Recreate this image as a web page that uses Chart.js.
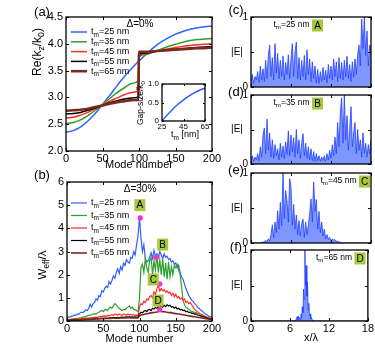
<!DOCTYPE html>
<html>
<head>
<meta charset="utf-8">
<script src="https://cdn.jsdelivr.net/npm/chart.js@4.4.1/dist/chart.umd.min.js"></script>
<style>
  html, body { margin: 0; padding: 0; background: #fff; }
  #wrap { position: relative; width: 375px; height: 348px; overflow: hidden; }
  #wrap canvas { position: absolute; left: 0; top: 0; }
</style>
</head>
<body>
<div id="wrap">
  <canvas id="chartA" width="375" height="348"></canvas>
  <canvas id="chartInset" width="375" height="348"></canvas>
  <canvas id="chartB" width="375" height="348"></canvas>
  <canvas id="chartC" width="375" height="348"></canvas>
  <canvas id="chartD" width="375" height="348"></canvas>
  <canvas id="chartE" width="375" height="348"></canvas>
  <canvas id="chartF" width="375" height="348"></canvas>
</div>
<script>
// metal thickness of each curve (nm)
const tmValues = [25, 35, 45, 55, 65];

// (a) Re(kz/k0) vs mode number, delta = 0%
const aModes = [0, 10, 20, 30, 40, 50, 60, 70, 80, 90, 99, 100, 110, 120, 130, 140, 150, 160, 170, 180, 190, 200];
const aBlue  = [2.35, 2.38, 2.45, 2.56, 2.7, 2.87, 3.04, 3.22, 3.39, 3.54, 3.67, 3.68, 3.81, 3.93, 4.03, 4.11, 4.18, 4.23, 4.27, 4.3, 4.32, 4.33];
const aGreen = [2.51, 2.53, 2.58, 2.66, 2.76, 2.87, 2.98, 3.09, 3.18, 3.26, 3.31, 3.76, 3.8, 3.85, 3.9, 3.95, 3.99, 4.03, 4.06, 4.08, 4.09, 4.1];
const aRed   = [2.62, 2.63, 2.67, 2.72, 2.79, 2.86, 2.93, 2.99, 3.05, 3.09, 3.12, 3.79, 3.82, 3.85, 3.88, 3.91, 3.93, 3.95, 3.97, 3.98, 3.99, 4.0];
const aBlack = [2.69, 2.7, 2.72, 2.76, 2.8, 2.85, 2.9, 2.94, 2.97, 2.99, 3.01, 3.81, 3.83, 3.85, 3.87, 3.89, 3.9, 3.91, 3.92, 3.93, 3.94, 3.95];
const aBrown = [2.75, 2.76, 2.77, 2.79, 2.82, 2.85, 2.88, 2.91, 2.93, 2.95, 2.96, 3.85, 3.85, 3.86, 3.87, 3.88, 3.89, 3.9, 3.91, 3.92, 3.92, 3.93];

// inset: gap size vs tm
const insetTm  = [25, 30, 35, 40, 45, 50, 55, 60, 65];
const insetGap = [0, 0.17, 0.32, 0.46, 0.57, 0.67, 0.76, 0.83, 0.89];

// (b) Weff/lambda vs mode number (every 2nd mode), delta = 30%
const bModeStep = 2;
const bBlue = [0.15,0.18,0.17,0.2,0.22,0.25,0.24,0.3,0.28,0.35,
  0.38,0.36,0.42,0.48,0.45,0.55,0.72,0.6,0.75,0.8,
  0.95,0.9,1.1,1.05,1.3,1.25,1.4,1.5,1.45,1.7,
  1.6,1.75,1.95,1.85,2.1,2.25,2.05,2.35,2.2,2.5,
  2.4,2.65,2.55,2.5,2.75,2.7,3.0,2.85,3.3,3.7,
  4.45,3.6,3.0,3.3,2.7,2.55,2.6,2.75,2.95,2.7,
  3.05,2.8,2.9,2.75,3.0,2.85,2.7,2.9,2.75,2.8,
  2.65,2.7,2.55,2.6,2.45,2.5,2.3,2.4,2.1,1.9,
  1.8,1.6,1.4,1.25,1.1,1.0,0.9,0.85,0.75,0.7,
  0.6,0.55,0.48,0.45,0.38,0.32,0.28,0.25,0.2,0.18,
  0.15];
const bGreen = [0.05,0.06,0.07,0.08,0.08,0.1,0.1,0.12,0.13,0.14,
  0.15,0.17,0.18,0.2,0.22,0.24,0.25,0.28,0.3,0.32,
  0.3,0.35,0.38,0.42,0.45,0.4,0.48,0.5,0.45,0.55,
  0.6,0.55,0.65,0.75,0.7,0.6,0.55,0.5,0.45,0.5,
  0.48,0.55,0.6,0.65,0.55,0.6,0.5,0.48,0.45,0.4,
  1.0,2.3,2.45,2.1,2.7,2.3,2.1,2.6,2.75,2.0,
  2.6,2.2,2.85,2.1,2.65,2.0,2.7,1.9,2.5,1.8,
  2.55,1.9,2.35,2.0,2.4,2.3,2.45,2.2,2.0,1.5,
  0.9,0.7,0.6,0.55,0.5,0.45,0.42,0.4,0.38,0.35,
  0.32,0.3,0.28,0.25,0.22,0.2,0.18,0.15,0.13,0.12,
  0.1];
const bRed = [0.05,0.05,0.06,0.06,0.07,0.07,0.08,0.08,0.09,0.09,
  0.1,0.1,0.11,0.12,0.12,0.13,0.14,0.14,0.15,0.16,
  0.17,0.16,0.18,0.2,0.19,0.21,0.22,0.2,0.24,0.22,
  0.25,0.27,0.24,0.3,0.28,0.26,0.3,0.27,0.25,0.3,
  0.28,0.25,0.3,0.26,0.28,0.25,0.27,0.24,0.25,0.22,
  0.6,0.75,0.7,0.85,0.8,0.95,0.9,1.05,1.1,1.0,
  1.25,1.15,1.4,1.55,1.3,1.4,1.3,1.35,1.25,1.3,
  1.2,1.25,1.1,1.2,1.05,1.15,1.0,1.05,0.95,1.0,
  0.9,0.95,0.8,0.85,0.75,0.8,0.7,0.6,0.5,0.45,
  0.4,0.35,0.3,0.28,0.25,0.2,0.18,0.15,0.13,0.12,
  0.1];
const bBlack = [0.03,0.03,0.03,0.04,0.04,0.04,0.05,0.05,0.05,0.06,
  0.06,0.06,0.07,0.07,0.07,0.08,0.08,0.08,0.09,0.09,
  0.1,0.1,0.1,0.11,0.11,0.12,0.12,0.12,0.13,0.13,
  0.14,0.14,0.15,0.14,0.15,0.16,0.15,0.16,0.17,0.16,
  0.17,0.18,0.17,0.18,0.17,0.18,0.17,0.18,0.17,0.16,
  0.3,0.38,0.35,0.42,0.45,0.4,0.48,0.5,0.45,0.55,
  0.52,0.58,0.55,0.62,0.58,0.65,0.6,0.68,0.62,0.7,
  0.65,0.68,0.6,0.62,0.55,0.6,0.52,0.55,0.48,0.5,
  0.45,0.47,0.4,0.42,0.36,0.38,0.33,0.34,0.3,0.3,
  0.26,0.25,0.22,0.2,0.18,0.16,0.14,0.12,0.1,0.08,
  0.07];
const bBrown = [0.02,0.02,0.03,0.03,0.03,0.04,0.04,0.04,0.05,0.05,
  0.05,0.06,0.06,0.06,0.07,0.07,0.07,0.08,0.08,0.08,
  0.09,0.09,0.09,0.1,0.1,0.1,0.1,0.11,0.11,0.11,
  0.11,0.12,0.12,0.12,0.12,0.13,0.12,0.13,0.13,0.13,
  0.14,0.13,0.14,0.14,0.13,0.14,0.13,0.14,0.13,0.13,
  0.22,0.25,0.27,0.28,0.3,0.31,0.32,0.34,0.35,0.36,
  0.37,0.38,0.39,0.4,0.42,0.41,0.4,0.41,0.39,0.38,
  0.37,0.36,0.36,0.34,0.33,0.32,0.31,0.3,0.29,0.28,
  0.27,0.26,0.25,0.24,0.22,0.21,0.2,0.19,0.18,0.17,
  0.16,0.15,0.14,0.13,0.12,0.11,0.1,0.09,0.08,0.07,
  0.06];

// marked modes A-D
const markerLetters = ['A', 'B', 'C', 'D'];
const markerModes = [101, 123, 128, 128];
const markerValues = [4.45, 2.75, 1.6, 0.5];

// (c)-(e) |E| profiles, x/lambda every 0.2
const fieldStep = 0.2;
const cField = [0.08,0.18,0.05,0.15,0.1,0.22,0.06,0.3,0.1,0.26,
  0.08,0.38,0.12,0.45,0.6,0.15,0.42,0.1,0.62,0.2,
  0.48,0.12,0.38,0.15,0.44,0.1,0.35,0.18,0.46,0.12,
  0.4,0.62,0.15,0.5,0.64,0.12,0.42,0.1,0.38,0.15,
  0.45,0.1,0.53,0.18,0.4,0.08,0.36,0.12,0.3,0.06,
  0.25,0.05,0.22,0.08,0.28,0.1,0.24,0.06,0.32,0.12,
  0.3,0.1,0.4,0.15,0.36,0.08,0.42,0.12,0.35,0.1,
  0.38,0.15,0.44,0.12,0.32,0.08,0.36,0.14,0.4,0.18,
  0.46,0.6,0.3,0.97,0.55,1.0,0.45,0.8,0.3,0.6,
  0.5];
const dField = [0.05,0.12,0.04,0.1,0.06,0.15,0.05,0.25,0.1,0.42,
  0.52,0.15,0.65,0.2,0.45,0.1,0.35,0.08,0.28,0.12,
  0.22,0.06,0.3,0.1,0.26,0.08,0.32,0.14,0.48,0.12,
  0.42,0.18,0.38,0.1,0.5,0.15,0.35,0.08,0.3,0.44,
  0.12,0.3,0.08,0.25,0.06,0.22,0.05,0.18,0.04,0.15,
  0.05,0.12,0.04,0.1,0.05,0.12,0.04,0.15,0.06,0.2,
  0.08,0.28,0.12,0.39,0.15,0.6,0.25,0.75,0.96,0.3,
  1.0,0.35,0.7,0.2,0.5,0.83,0.25,0.45,0.6,0.15,
  0.5,0.2,0.35,0.1,0.45,0.15,0.3,0.1,0.28,0.15,
  0.35];
const eField = [0,0,0,0,0,0,0,0,0.01,0.01,
  0.02,0.04,0.02,0.06,0.03,0.12,0.26,0.08,0.3,0.15,
  0.46,0.2,0.58,0.25,1.0,0.35,0.75,0.6,0.3,0.92,
  0.79,0.25,0.55,0.2,0.4,0.12,0.32,0.1,0.28,0.34,
  0.08,0.3,0.12,0.25,0.42,0.63,0.3,0.87,0.45,0.62,
  0.2,0.45,0.15,0.3,0.1,0.2,0.06,0.12,0.05,0.08,
  0.03,0.06,0.04,0.05,0.02,0.03,0.01,0.01,0,0,
  0,0,0,0,0,0,0,0,0,0,
  0,0,0,0,0,0,0,0,0,0,
  0];
// (f) narrow peak, sampled finer around it
const fX = [0, 6.8, 7.0, 7.1, 7.2, 7.3, 7.4, 7.5, 7.6, 7.7, 7.8, 7.9, 8.0, 8.1, 8.2, 8.3, 8.4, 8.5, 8.6, 8.7, 8.8, 8.9, 9.0, 9.1, 9.2, 9.3, 9.5, 18];
const fField = [0, 0, 0.03, 0.06, 0.02, 0.07, 0.03, 0.05, 0.02, 0.1, 0.04, 0.2, 0.12, 0.45, 0.3, 1.0, 0.5, 0.78, 0.35, 0.55, 0.15, 0.25, 0.08, 0.1, 0.03, 0.05, 0, 0];

const lineColors = ['#3060ff', '#2ca02c', '#ff2a2a', '#000000', '#7a2a1a'];
const fieldBlue = '#1f3fff';
const FONT = '"Liberation Sans", Arial, Helvetica, sans-serif';
Chart.defaults.font.family = FONT;
Chart.defaults.color = '#000';

// split "t_{m}=25" into normal / subscript pieces
function richParts(str) {
    const out = [];
    const re = /_\{([^}]*)\}/g;
    let last = 0, m;
    while ((m = re.exec(str))) {
        if (m.index > last) out.push([str.slice(last, m.index), false]);
        out.push([m[1], true]);
        last = re.lastIndex;
    }
    if (last < str.length) out.push([str.slice(last), false]);
    return out;
}

function drawRich(ctx, str, x, y, size, align, rot) {
    const parts = richParts(str);
    const fontOf = (sub) => `${sub ? size * 0.72 : size}px ${FONT}`;
    ctx.save();
    ctx.translate(x, y);
    if (rot) ctx.rotate(-Math.PI / 2);
    let w = 0;
    parts.forEach(p => { ctx.font = fontOf(p[1]); w += ctx.measureText(p[0]).width; });
    let cx = align === 'center' ? -w / 2 : align === 'right' ? -w : 0;
    ctx.textBaseline = 'middle';
    ctx.textAlign = 'left';
    ctx.fillStyle = '#000';
    parts.forEach(p => {
        ctx.font = fontOf(p[1]);
        ctx.fillText(p[0], cx, p[1] ? size * 0.32 : 0);
        cx += ctx.measureText(p[0]).width;
    });
    ctx.restore();
}

function letterBox(ctx, letter, cx, cy) {
    ctx.fillStyle = '#a8c83c';
    ctx.fillRect(cx - 5.5, cy - 6, 11, 12);
    ctx.fillStyle = '#000';
    ctx.font = `10px ${FONT}`;
    ctx.textAlign = 'center';
    ctx.textBaseline = 'middle';
    ctx.fillText(letter, cx, cy + 0.5);
}

// box, inward ticks, legend and labels in MATLAB style
function framePlugin(cfg) {
    return {
        id: 'frame',
        beforeDraw(chart) {
            if (!cfg.whiteArea) return;
            const a = chart.chartArea;
            chart.ctx.fillStyle = '#fff';
            chart.ctx.fillRect(a.left, a.top, a.right - a.left, a.bottom - a.top);
        },
        afterDraw(chart) {
            const { ctx, chartArea: a } = chart;
            const xs = chart.scales.x, ys = chart.scales.y;
            const tl = cfg.tickLen || 3;
            ctx.save();
            ctx.strokeStyle = '#000';
            ctx.lineWidth = 1;
            ctx.beginPath();
            (cfg.xTicks || []).forEach(v => {
                const p = Math.round(xs.getPixelForValue(v)) + 0.5;
                ctx.moveTo(p, a.bottom); ctx.lineTo(p, a.bottom - tl);
                ctx.moveTo(p, a.top); ctx.lineTo(p, a.top + tl);
            });
            (cfg.yTicks || []).forEach(v => {
                const p = Math.round(ys.getPixelForValue(v)) + 0.5;
                ctx.moveTo(a.left, p); ctx.lineTo(a.left + tl, p);
                ctx.moveTo(a.right, p); ctx.lineTo(a.right - tl, p);
            });
            ctx.stroke();
            ctx.lineWidth = 1.3;
            ctx.strokeRect(a.left, a.top, a.right - a.left, a.bottom - a.top);

            if (cfg.legend) {
                const L = cfg.legend;
                let i = 0;
                chart.data.datasets.forEach(ds => {
                    if (!ds.label) return;
                    const y = L.y + i * L.dy;
                    ctx.strokeStyle = ds.borderColor;
                    ctx.lineWidth = ds.borderWidth;
                    ctx.beginPath();
                    ctx.moveTo(L.x, y); ctx.lineTo(L.x + L.len, y);
                    ctx.stroke();
                    drawRich(ctx, ds.label, L.x + L.len + 4, y, L.size, 'left');
                    i++;
                });
            }
            (cfg.boxes || []).forEach(b => letterBox(ctx, b.t, xs.getPixelForValue(b.x), ys.getPixelForValue(b.y)));
            (cfg.boxesPx || []).forEach(b => letterBox(ctx, b.t, b.x, b.y));
            (cfg.texts || []).forEach(t => drawRich(ctx, t.t, t.x, t.y, t.size, t.align || 'center', t.rot));
            ctx.restore();
        }
    };
}

function linAxis(min, max, step, size, isX, fontSize) {
    return {
        type: 'linear',
        min: min,
        max: max,
        grid: { display: false, drawTicks: false },
        border: { display: false },
        ticks: { stepSize: step, font: { size: fontSize }, padding: isX ? 1 : 3, maxRotation: 0, autoSkip: false },
        afterFit: (scale) => { if (isX) scale.height = size; else scale.width = size; }
    };
}

function baseOptions(padding, xAxis, yAxis) {
    return {
        responsive: false,
        animation: false,
        events: [],
        layout: { padding: padding, autoPadding: false },
        plugins: { legend: { display: false }, tooltip: { enabled: false } },
        scales: { x: xAxis, y: yAxis }
    };
}

const pairs = (xs, ys) => xs.map((x, j) => ({ x: x, y: ys[j] }));
const stepX = (n, step) => Array.from({ length: n }, (_, j) => +(j * step).toFixed(2));

// (a)
const aSeries = [aBlue, aGreen, aRed, aBlack, aBrown];
new Chart(document.getElementById('chartA'), {
    type: 'line',
    data: {
        datasets: aSeries.map((vals, i) => ({
            label: `t_{m}=${tmValues[i]} nm`,
            data: pairs(aModes, vals),
            borderColor: lineColors[i],
            borderWidth: i === 4 ? 2.6 : 1.5,
            pointRadius: 0,
            cubicInterpolationMode: 'monotone',
            order: 5 - i
        }))
    },
    options: baseOptions({ left: 36, right: 163, top: 17, bottom: 177 },
        linAxis(0, 200, 50, 20, true, 11),
        linAxis(2, 4.5, 0.5, 30, false, 11)),
    plugins: [framePlugin({
        xTicks: [0, 50, 100, 150, 200],
        yTicks: [2, 2.5, 3, 3.5, 4, 4.5],
        legend: { x: 71, y: 32, dy: 9.8, len: 16, size: 9 },
        texts: [
            { t: '(a)', x: 42, y: 12, size: 13 },
            { t: 'Δ=0%', x: 140, y: 24, size: 10 },
            { t: 'Re(k_{z}/k_{0})', x: 38, y: 52, size: 12, rot: true },
            { t: 'Mode number', x: 139, y: 165, size: 11 }
        ]
    })]
});

// inset of (a)
new Chart(document.getElementById('chartInset'), {
    type: 'line',
    data: {
        datasets: [{
            data: pairs(insetTm, insetGap),
            borderColor: lineColors[0],
            borderWidth: 1.5,
            pointRadius: 0,
            cubicInterpolationMode: 'monotone'
        }]
    },
    options: baseOptions({ left: 142, right: 170, top: 84, bottom: 215 },
        linAxis(25, 65, 20, 12, true, 8),
        linAxis(0, 1, 0.5, 20, false, 8)),
    plugins: [framePlugin({
        whiteArea: true,
        tickLen: 2,
        xTicks: [25, 45, 65],
        yTicks: [0, 0.5, 1],
        texts: [
            { t: 'Gap-size/k_{0}', x: 141, y: 103, size: 8.5, rot: true },
            { t: 't_{m} [nm]', x: 185, y: 135, size: 9 }
        ]
    })]
});

// (b)
const bSeries = [bBlue, bGreen, bRed, bBlack, bBrown];
const bModes = stepX(bBlue.length, bModeStep);
const bDatasets = bSeries.map((vals, i) => ({
    label: `t_{m}=${tmValues[i]} nm`,
    data: pairs(bModes, vals),
    borderColor: lineColors[i],
    borderWidth: i === 4 ? 1.6 : 1.2,
    pointRadius: 0,
    tension: 0,
    order: 5 - i
}));
bDatasets.push({
    data: pairs(markerModes, markerValues),
    showLine: false,
    pointRadius: 2.6,
    pointBackgroundColor: '#ff2bd6',
    pointBorderWidth: 0,
    borderColor: '#ff2bd6',
    order: 0
});
new Chart(document.getElementById('chartB'), {
    type: 'line',
    data: { datasets: bDatasets },
    options: baseOptions({ left: 37, right: 163, top: 182, bottom: 7 },
        linAxis(0, 200, 50, 20, true, 11),
        linAxis(0, 6, 1, 30, false, 11)),
    plugins: [framePlugin({
        xTicks: [0, 50, 100, 150, 200],
        yTicks: [0, 1, 2, 3, 4, 5, 6],
        legend: { x: 71, y: 203, dy: 12.5, len: 16, size: 9 },
        boxes: [
            { t: markerLetters[0], x: 100.5, y: 5.0 },
            { t: markerLetters[1], x: 132, y: 3.3 },
            { t: markerLetters[2], x: 119, y: 1.79 },
            { t: markerLetters[3], x: 125.5, y: 0.88 }
        ],
        texts: [
            { t: '(b)', x: 42, y: 175, size: 13 },
            { t: 'Δ=30%', x: 140, y: 189, size: 10 },
            { t: 'W_{eff}/λ', x: 43, y: 265, size: 11.5, rot: true },
            { t: 'Mode number', x: 139.5, y: 339, size: 11 }
        ]
    })]
});

// (c)-(f)
function fieldChart(id, xs, vals, top, bottom, showX, tag, tm, letter, boxX) {
    const xH = showX ? 16 : 6;
    const xAxis = linAxis(0, 18, 6, xH, true, 11);
    if (!showX) xAxis.ticks.display = false;
    const yAxis = linAxis(0, 1, 0.5, 12, false, 10);
    yAxis.ticks.callback = (v) => (v === 0 || v === 1) ? String(v) : '';
    const texts = [
        { t: tag, x: 236, y: top - (tag === '(c)' ? 7 : 3), size: 13 },
        { t: '|E|', x: 237, y: (top + bottom) / 2, size: 10 },
        { t: `t_{m}=${tm} nm`, x: boxX - 8, y: top + 8, size: 8.5, align: 'right' }
    ];
    if (showX) texts.push({ t: 'x/λ', x: 311, y: 338, size: 11 });
    new Chart(document.getElementById(id), {
        type: 'line',
        data: {
            datasets: [{
                data: pairs(xs, vals),
                borderColor: fieldBlue,
                borderWidth: 0.8,
                backgroundColor: 'rgba(40, 80, 255, 0.6)',
                fill: 'origin',
                pointRadius: 0,
                tension: 0
            }]
        },
        options: baseOptions({ left: 239, right: 4, top: top, bottom: 348 - bottom - xH },
            xAxis, yAxis),
        plugins: [framePlugin({
            xTicks: [0, 6, 12, 18],
            yTicks: [0, 0.5, 1],
            boxesPx: [{ t: letter, x: boxX, y: top + 8.5 }],
            texts: texts
        })]
    });
}

const fieldX = stepX(cField.length, fieldStep);
fieldChart('chartC', fieldX, cField, 17, 87, false, '(c)', tmValues[0], markerLetters[0], 317.5);
fieldChart('chartD', fieldX, dField, 95, 164, false, '(d)', tmValues[1], markerLetters[1], 317.5);
fieldChart('chartE', fieldX, eField, 173, 243, false, '(e)', tmValues[2], markerLetters[2], 364.5);
fieldChart('chartF', fX, fField, 250, 321, true, '(f)', tmValues[4], markerLetters[3], 360);
</script>
</body>
</html>
